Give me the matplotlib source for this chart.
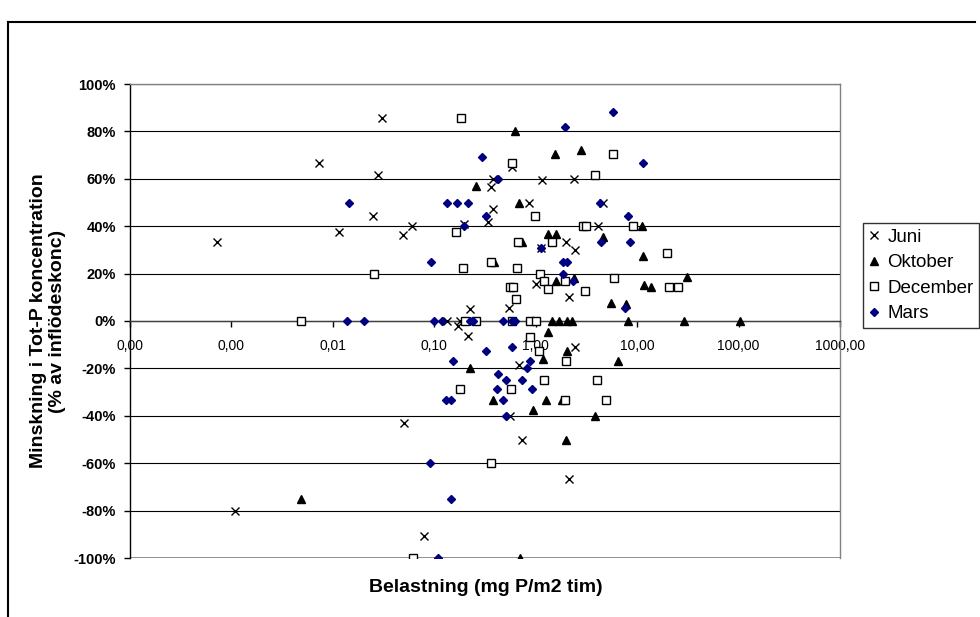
import matplotlib
matplotlib.use("Agg")
import matplotlib.pyplot as plt
from matplotlib.lines import Line2D

plt.rcParams['font.family'] = ['Liberation Sans', 'DejaVu Sans']

# values
juni_x = [0.00072, 0.0073, 0.0305, 0.0279, 0.0115, 0.0249, 0.0491, 0.0603, 0.362, 0.379,
          0.338, 0.379, 0.225, 0.171, 0.215, 0.133, 0.179, 0.00108, 0.0503, 0.0792,
          0.584, 1.15, 0.858, 0.196, 2.39, 4.61, 4.11, 1.99, 2.44, 1.13,
          1.01, 2.13, 0.545, 2.44, 0.684, 0.558, 0.732, 2.13]
juni_y = [33.3, 66.7, 85.7, 61.5, 37.5, 44.4, 36.4, 40.0, 56.5, 47.1,
          41.7, 60.0, 5.0, -2.0, -6.3, 0, 0, -80, -42.9, -90.9,
          65.0, 59.5, 50.0, 41.0, 60.0, 50.0, 40.0, 33.3, 30.0, 30.8,
          15.6, 10.0, 5.5, -11.1, -18.5, -40.0, -50.0, -66.7]

okt_x = [0.258, 0.00485, 0.225, 0.379, 0.625, 1.55, 2.80, 0.684, 11.2, 1.32,
         1.58, 4.61, 0.732, 11.4, 1.58, 2.39, 11.7, 13.7, 31.0, 5.52,
         7.77, 8.13, 29.0, 103, 1.45, 1.70, 2.03, 2.28, 1.32, 2.03,
         1.18, 6.48, 1.26, 1.82, 0.940, 3.84, 1.99, 0.700, 0.388]
okt_y = [57.1, -75, -20, -33.3, 80, 70.6, 72.2, 50, 40, 36.8,
         36.8, 35.3, 33.3, 27.3, 16.7, 18.2, 15.4, 14.3, 18.5, 7.7,
         7.1, 0, 0, 0, 0, 0, 0, 0, -4.5, -12.5,
         -16.0, -16.7, -33.3, -33.3, -37.5, -40, -50, -100, 25]

dec_x = [0.183, 0.164, 0.0255, 0.192, 0.362, 0.00485, 0.201, 0.258, 0.179, 0.362,
         0.0617, 0.584, 5.78, 3.84, 0.984, 2.93, 3.13, 9.10, 0.669, 1.45,
         19.7, 0.654, 1.10, 1.21, 1.94, 5.91, 0.558, 0.597, 1.32, 20.6,
         25.3, 3.06, 0.639, 0.584, 0.878, 1.01, 0.878, 1.08, 1.99, 1.21,
         4.02, 0.571, 1.94, 4.93]
dec_y = [85.7, 37.5, 20, 22.2, 25, 0, 0, 0, -28.6, -60,
         -100, 66.7, 70.6, 61.5, 44.4, 40, 40, 40, 33.3, 33.3,
         28.6, 22.2, 20, 16.7, 16.7, 18.2, 14.3, 14.3, 13.3, 14.3,
         14.3, 12.5, 9.1, 0, 0, 0, -6.7, -12.5, -16.7, -25,
         -25, -28.6, -33.3, -33.3]

mars_x = [0.0144, 0.133, 0.167, 0.215, 0.295, 0.425, 0.324, 0.196, 0.0928, 0.0138,
          0.0203, 0.0994, 0.119, 0.225, 0.241, 0.476, 0.584, 0.625, 0.324, 0.153,
          0.425, 0.415, 0.130, 0.146, 0.0907, 0.146, 0.109, 0.584, 0.878, 0.820,
          0.509, 0.732, 0.919, 0.476, 5.78, 1.94, 11.4, 4.30, 8.13, 4.40,
          8.50, 1.13, 1.86, 2.03, 1.86, 2.33, 7.59, 0.509]
mars_y = [50, 50, 50, 50, 69.2, 60, 44.4, 40, 25, 0,
          0, 0, 0, 0, 0, 0, 0, 0, -12.5, -16.7,
          -22.2, -28.6, -33.3, -33.3, -60, -75, -100, -11.1, -16.7, -20,
          -25, -25, -28.6, -33.3, 88.2, 81.8, 66.7, 50, 44.4, 33.3,
          33.3, 30.8, 25, 25, 20, 16.7, 5.6, -40]

x_ticks = [0.0001, 0.001, 0.01, 0.1, 1, 10, 100, 1000]
x_labels = ['0,00', '0,00', '0,01', '0,10', '1,00', '10,00', '100,00', '1000,00']
y_ticks = list(range(-100, 101, 20))

W, H = 980, 617
fig = plt.figure(figsize=(W / 100, H / 100), dpi=100)
ax = fig.add_axes([130 / W, (H - 558) / H, 710 / W, 474 / H])

ax.set_xscale('log')
ax.set_xlim(1e-4, 1e3)
ax.set_ylim(-100, 100)

ax.set_yticks(y_ticks)
ax.set_yticklabels([f'{v}%' for v in y_ticks], fontsize=10.5, fontweight='bold')
ax.set_xticks(x_ticks)
ax.set_xticklabels(x_labels, fontsize=10.5, fontweight='bold')
ax.xaxis.set_minor_locator(matplotlib.ticker.NullLocator())
ax.tick_params(axis='y', direction='out', length=4, width=1, pad=6)
ax.tick_params(axis='x', direction='out', length=4, width=1, pad=9)

ax.yaxis.grid(True, color='black', lw=0.8)
ax.set_axisbelow(True)
ax.axhline(-100, color='#808080', lw=1.2, zorder=1)
ax.spines['bottom'].set_position(('data', 0))
ax.spines['bottom'].set_color('#404040')
ax.spines['left'].set_color('black')
ax.spines['top'].set_color('#808080')
ax.spines['right'].set_color('#808080')
for s in ax.spines.values():
    s.set_linewidth(1)

ax.plot(juni_x, juni_y, 'x', color='black', ms=5.5, mew=1, label='Juni', zorder=3)
ax.plot(okt_x, okt_y, '^', color='black', ms=5.5, label='Oktober', zorder=3)
ax.plot(dec_x, dec_y, 's', mfc='white', mec='black', ms=5.5, mew=1, label='December', zorder=3)
ax.plot(mars_x, mars_y, 'D', color='#000080', ms=4, label='Mars', zorder=3)

fig.text(48 / W, (H - 321) / H, 'Minskning i Tot-P koncentration\n(% av inflödeskonc)',
         rotation=90, ha='center', va='center', fontsize=14, fontweight='bold',
         linespacing=1.1, multialignment='center')
fig.text(486 / W, (H - 588) / H, 'Belastning (mg P/m2 tim)', ha='center', va='center',
         fontsize=14, fontweight='bold')

leg = fig.legend(loc='upper left', bbox_to_anchor=(863 / W, (H - 223) / H), fontsize=13.5,
                 frameon=True, fancybox=False, shadow=False, borderaxespad=0,
                 handlelength=0.6, handletextpad=0.4, borderpad=0.3, labelspacing=0.45)
leg.get_frame().set_edgecolor('black')
leg.get_frame().set_linewidth(1)

# outer chart frame
fig.add_artist(Line2D([8 / W, 8 / W], [0, (H - 22) / H], color='black', lw=1.5))
fig.add_artist(Line2D([8 / W, 975 / W], [(H - 22) / H, (H - 22) / H], color='black', lw=1.5))

fig.savefig('out.png', dpi=100)
